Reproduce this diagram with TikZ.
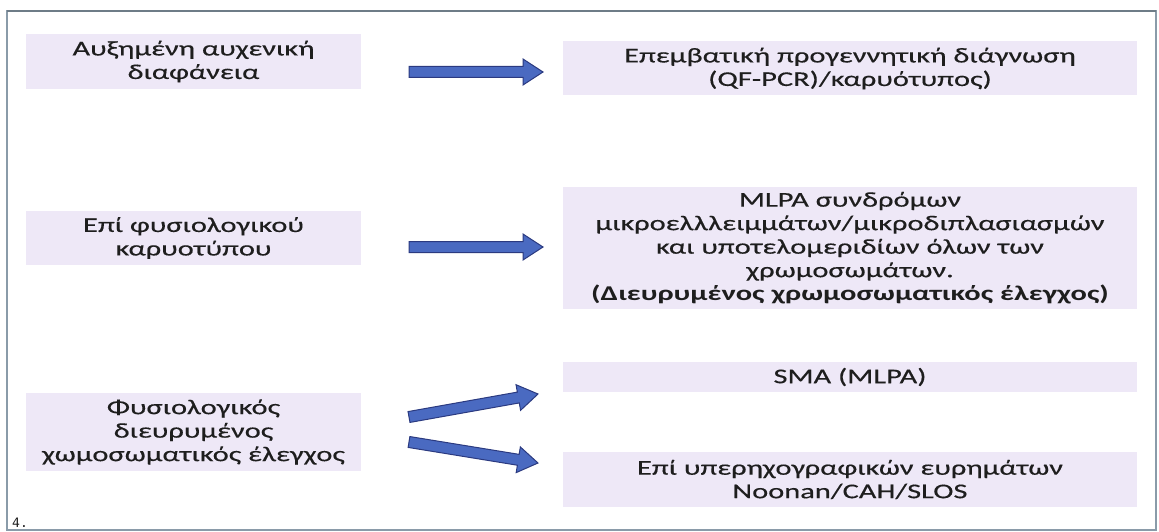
\documentclass[tikz,border=0pt]{standalone}
\usepackage{fontspec}
\setmainfont{Carlito}[FakeStretch=1.45, UprightFeatures={FakeBold=0.35}]
\newfontfamily\numfont{DejaVu Sans Mono}
\usetikzlibrary{calc}
\definecolor{boxfill}{HTML}{EEE8F7}
\definecolor{arrfill}{HTML}{4A6AC1}
\definecolor{arrdraw}{HTML}{2B3A80}
\definecolor{frameclr}{HTML}{8A9BA9}
\definecolor{txt}{HTML}{1E1E1E}
\tikzset{
  box/.style={fill=boxfill, draw=none, align=center, inner sep=0pt,
    font=\fontsize{21}{23.5}\selectfont, text=txt},
  barrow/.style={fill=arrfill, draw=arrdraw, line width=1pt, line join=miter}
}
\newcommand\blockarrow[2]{%
  \coordinate (hb) at ($(#2)!20pt!(#1)$);
  \draw[barrow] ($(#1)!5.5pt!90:(#2)$) -- ($(hb)!5.5pt!-90:(#1)$)
    -- ($(hb)!13pt!-90:(#1)$) -- (#2) -- ($(hb)!13pt!90:(#1)$)
    -- ($(hb)!5.5pt!90:(#1)$) -- ($(#1)!5.5pt!-90:(#2)$) -- cycle;}
\begin{document}
\begin{tikzpicture}[x=1pt,y=-1pt]
\useasboundingbox (0,0) rectangle (1159,532);
\fill[white] (0,0) rectangle (1159,532);
\draw[frameclr, line width=1.5pt] (7,11) rectangle (1156,530);
\draw[frameclr!80!black, line width=2pt] (7,11) -- (1156,11);

\node[box, minimum width=335pt, minimum height=55pt] (a1) at (193.5,61.5)
  {Αυξημένη αυχενική\\διαφάνεια};
\node[box, minimum width=574pt, minimum height=54pt] (b1) at (850,68.5)
  {Επεμβατική προγεννητική διάγνωση\\(QF-PCR)/καρυότυπος)};
\node[box, minimum width=335pt, minimum height=54pt] (a2) at (193.5,238)
  {Επί φυσιολογικού\\καρυοτύπου};
\node[box, minimum width=574pt, minimum height=122pt] (b2) at (850,248)
  {MLPA συνδρόμων\\μικροελλλειμμάτων/μικροδιπλασιασμών\\και υποτελομεριδίων όλων των\\χρωμοσωμάτων.\\\textbf{(Διευρυμένος χρωμοσωματικός έλεγχος)}};
\node[box, minimum width=335pt, minimum height=78pt] (a3) at (193.5,432)
  {Φυσιολογικός\\διευρυμένος\\χωμοσωματικός έλεγχος};
\node[box, minimum width=574pt, minimum height=30pt] (b3) at (850,377)
  {SMA (MLPA)};
\node[box, minimum width=574pt, minimum height=55pt] (b4) at (850,479.5)
  {Επί υπερηχογραφικών ευρημάτων\\Noonan/CAH/SLOS};
\node[font=\numfont\fontsize{13}{15}\selectfont, anchor=south west, inner sep=0pt, text=txt] (num) at (12,528) {4.};

\coordinate (t1) at (409,72);  \coordinate (h1) at (543,72);
\coordinate (t2) at (409,247); \coordinate (h2) at (543,247);
\coordinate (t3) at (409,417); \coordinate (h3) at (538,394);
\coordinate (t4) at (409,442); \coordinate (h4) at (538,463);
\blockarrow{t1}{h1}
\blockarrow{t2}{h2}
\blockarrow{t3}{h3}
\blockarrow{t4}{h4}
\end{tikzpicture}
\end{document}
